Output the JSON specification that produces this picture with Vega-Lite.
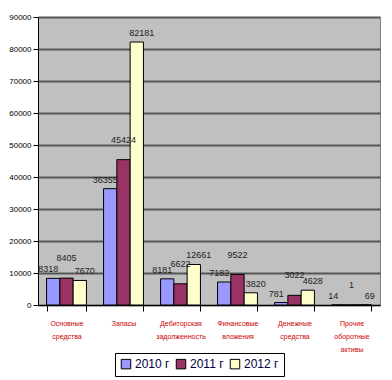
{
  "$schema": "https://vega.github.io/schema/vega-lite/v6.json",
  "width": 342,
  "height": 288,
  "autosize": {"type": "none"},
  "padding": {"left": 38, "top": 17, "right": 12, "bottom": 75},
  "background": "white",
  "view": {"fill": "#C0C0C0", "stroke": "#808080"},
  "config": {"font": "Liberation Sans"},
  "data": {
    "values": [
      {"cat": "Основные средства", "year": "2010 г", "v": 8318},
      {"cat": "Основные средства", "year": "2011 г", "v": 8405},
      {"cat": "Основные средства", "year": "2012 г", "v": 7670},
      {"cat": "Запасы", "year": "2010 г", "v": 36355},
      {"cat": "Запасы", "year": "2011 г", "v": 45424},
      {"cat": "Запасы", "year": "2012 г", "v": 82181},
      {"cat": "Дебиторская задолженность", "year": "2010 г", "v": 8181},
      {"cat": "Дебиторская задолженность", "year": "2011 г", "v": 6622},
      {"cat": "Дебиторская задолженность", "year": "2012 г", "v": 12661},
      {"cat": "Финансовые вложения", "year": "2010 г", "v": 7182},
      {"cat": "Финансовые вложения", "year": "2011 г", "v": 9522},
      {"cat": "Финансовые вложения", "year": "2012 г", "v": 3820},
      {"cat": "Денежные средства", "year": "2010 г", "v": 781},
      {"cat": "Денежные средства", "year": "2011 г", "v": 3022},
      {"cat": "Денежные средства", "year": "2012 г", "v": 4628},
      {"cat": "Прочие оборотные активы", "year": "2010 г", "v": 14},
      {"cat": "Прочие оборотные активы", "year": "2011 г", "v": 1},
      {"cat": "Прочие оборотные активы", "year": "2012 г", "v": 69}
    ]
  },
  "encoding": {
    "x": {
      "field": "cat", "type": "nominal", "sort": null,
      "scale": {"paddingInner": 0.3, "paddingOuter": 0.15},
      "axis": {
        "title": null, "labelAngle": 0, "labelColor": "#CC0000", "labelFontSize": 7,
        "labelExpr": "split(datum.label, ' ')", "labelPadding": 8, "labelLineHeight": 13,
        "domainColor": "black", "tickColor": "black", "tickSize": 6, "tickBand": "extent", "grid": false
      }
    },
    "xOffset": {"field": "year", "type": "nominal", "sort": ["2010 г", "2011 г", "2012 г"]},
    "y": {
      "field": "v", "type": "quantitative",
      "scale": {"domain": [0, 90000], "nice": false},
      "axis": {
        "title": null, "values": [0, 10000, 20000, 30000, 40000, 50000, 60000, 70000, 80000, 90000],
        "format": "d", "labelFontSize": 8, "labelColor": "black", "domainColor": "black",
        "tickColor": "black", "tickSize": 5, "gridColor": "#555555", "gridWidth": 2
      }
    }
  },
  "layer": [
    {
      "mark": {"type": "bar", "stroke": "black", "strokeWidth": 1},
      "encoding": {
        "color": {
          "field": "year", "type": "nominal",
          "scale": {"domain": ["2010 г", "2011 г", "2012 г"], "range": ["#9999FF", "#993366", "#FFFFCC"]},
          "legend": {
            "title": null, "orient": "none", "direction": "horizontal", "legendX": 77, "legendY": 336,
            "symbolType": "square", "symbolSize": 90, "symbolStrokeColor": "black", "symbolStrokeWidth": 1,
            "labelFontSize": 12, "labelColor": "#000040", "labelOffset": 3, "columnPadding": 4,
            "strokeColor": "black", "padding": 5, "fillColor": "white"
          }
        }
      }
    },
    {
      "transform": [{"filter": "datum.year === '2010 г'"}],
      "mark": {"type": "text", "dy": -9, "dx": -5, "fontSize": 9, "color": "#222222"},
      "encoding": {"text": {"field": "v", "type": "quantitative", "format": "d"}}
    },
    {
      "transform": [{"filter": "datum.year === '2011 г'"}],
      "mark": {"type": "text", "dy": -20, "fontSize": 9, "color": "#222222"},
      "encoding": {"text": {"field": "v", "type": "quantitative", "format": "d"}}
    },
    {
      "transform": [{"filter": "datum.year === '2012 г'"}],
      "mark": {"type": "text", "dy": -9, "dx": 5, "fontSize": 9, "color": "#222222"},
      "encoding": {"text": {"field": "v", "type": "quantitative", "format": "d"}}
    }
  ]
}
